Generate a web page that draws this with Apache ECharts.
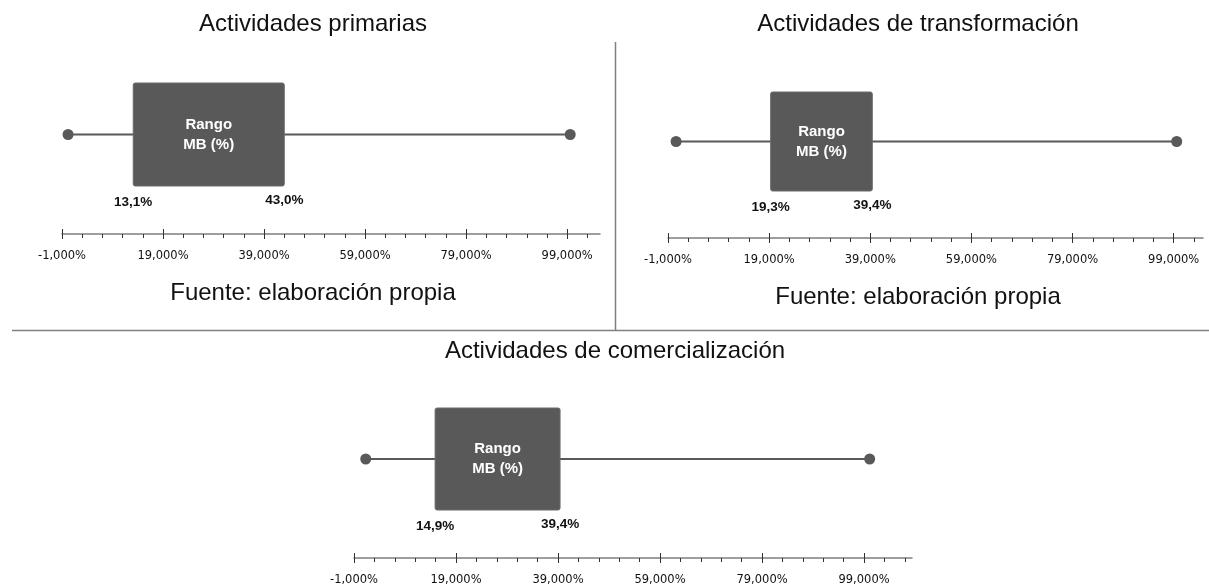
<!DOCTYPE html>
<html><head><meta charset="utf-8">
<script src="https://cdn.jsdelivr.net/npm/echarts@6/dist/echarts.min.js"></script>
<style>html,body{margin:0;padding:0;background:#fff}#c{width:1209px;height:586px}</style>
</head><body><div id="c"></div>
<script>
// ---- data ----
const panelTitles = ['Actividades primarias', 'Actividades de transformación', 'Actividades de comercialización'];
const categoryName = ['Rango MB (%)'];
const boxText = 'Rango\nMB (%)';
const rangeMin = [0.2, 0.6, 1.3];
const rangeLow = [13.1, 19.3, 14.9];
const rangeHigh = [43.0, 39.4, 39.4];
const rangeMax = [99.6, 99.6, 100.1];
const majorTicks = [-1, 19, 39, 59, 79, 99];
const axisMin = -1;
const axisMax = [105.5, 104.8, 108.4];
const sourceText = 'Fuente: elaboración propia';

// ---- layout (style only) ----
const layouts = [
  {left: 62, right: 609, top: 83, height: 103, offset: 48},
  {left: 668, right: 6, top: 92, height: 99, offset: 47},
  {left: 354, right: 297, top: 408, height: 102, offset: 48}
];
const BOX = '#595959';
const SANS = '"Liberation Sans", Arial, sans-serif';

function pct1(v) { return v.toFixed(1).replace('.', ',') + '%'; }
function pct3(v) { return v.toFixed(3).replace('.', ',') + '%'; }
function minorTicksFor(max) { const t = []; for (let v = axisMin; v <= max + 1e-9; v += 4) t.push(v); return t; }

const grids = [], xAxes = [], yAxes = [], series = [];
layouts.forEach((L, i) => {
  grids.push({left: L.left, right: L.right, top: L.top, height: L.height});
  yAxes.push({gridIndex: i, type: 'category', data: categoryName, show: false});
  const base = {gridIndex: i, type: 'value', min: axisMin, max: axisMax[i], position: 'bottom', offset: L.offset,
    splitLine: {show: false}};
  xAxes.push(Object.assign({}, base, {
    axisLine: {show: true, lineStyle: {color: '#7f7f7f', width: 1.5}},
    axisTick: {show: true, customValues: majorTicks, length: 5, lineStyle: {color: '#333', width: 1}},
    axisLabel: {show: true, customValues: majorTicks, formatter: pct3, fontFamily: '"DejaVu Sans", Verdana, sans-serif',
      fontSize: 11.5, color: '#111', margin: 16}
  }));
  xAxes.push(Object.assign({}, base, {
    axisLine: {show: false},
    axisTick: {show: true, inside: true, customValues: majorTicks, length: 5, lineStyle: {color: '#333', width: 1}},
    axisLabel: {show: false}
  }));
  xAxes.push(Object.assign({}, base, {
    axisLine: {show: false},
    axisTick: {show: true, customValues: minorTicksFor(axisMax[i]), length: 4, lineStyle: {color: '#333', width: 1}},
    axisLabel: {show: false}
  }));
  series.push({
    type: 'custom', xAxisIndex: i * 3, yAxisIndex: i, clip: false,
    encode: {x: [0, 1, 2, 3], y: 4},
    data: [[rangeMin[i], rangeLow[i], rangeHigh[i], rangeMax[i], 0]],
    renderItem: function (params, api) {
      const pMin = api.coord([api.value(0), 0]);
      const pLow = api.coord([api.value(1), 0]);
      const pHigh = api.coord([api.value(2), 0]);
      const pMax = api.coord([api.value(3), 0]);
      const yc = pMin[1];
      const h = api.size([0, 1])[1];
      const bottom = yc + h / 2;
      return {type: 'group', children: [
        {type: 'line', shape: {x1: pMin[0], y1: yc, x2: pMax[0], y2: yc}, style: {stroke: BOX, lineWidth: 2}},
        {type: 'circle', shape: {cx: pMin[0], cy: yc, r: 5.5}, style: {fill: BOX}},
        {type: 'circle', shape: {cx: pMax[0], cy: yc, r: 5.5}, style: {fill: BOX}},
        {type: 'rect', shape: {x: pLow[0], y: yc - h / 2, width: pHigh[0] - pLow[0], height: h, r: 2},
          style: {fill: BOX, stroke: '#6a6a6a', lineWidth: 1}},
        {type: 'text', x: (pLow[0] + pHigh[0]) / 2, y: yc, style: {text: boxText, fill: '#fff', font: 'bold 15px ' + SANS,
          align: 'center', verticalAlign: 'middle', lineHeight: 20}},
        {type: 'text', x: pLow[0], y: bottom + 16, style: {text: pct1(api.value(1)), fill: '#111', font: 'bold 13.5px ' + SANS,
          align: 'center', verticalAlign: 'middle'}},
        {type: 'text', x: pHigh[0], y: bottom + 14, style: {text: pct1(api.value(2)), fill: '#111', font: 'bold 13.5px ' + SANS,
          align: 'center', verticalAlign: 'middle'}}
      ]};
    }
  });
});

const titleFont = '24px ' + SANS;
const graphic = [
  {type: 'text', x: 313, y: 24, style: {text: panelTitles[0], font: titleFont, fill: '#111', align: 'center', verticalAlign: 'middle'}},
  {type: 'text', x: 918, y: 24, style: {text: panelTitles[1], font: titleFont, fill: '#111', align: 'center', verticalAlign: 'middle'}},
  {type: 'text', x: 615, y: 351, style: {text: panelTitles[2], font: titleFont, fill: '#111', align: 'center', verticalAlign: 'middle'}},
  {type: 'text', x: 313, y: 293, style: {text: sourceText, font: titleFont, fill: '#111', align: 'center', verticalAlign: 'middle'}},
  {type: 'text', x: 918, y: 297, style: {text: sourceText, font: titleFont, fill: '#111', align: 'center', verticalAlign: 'middle'}},
  {type: 'line', shape: {x1: 615.5, y1: 42, x2: 615.5, y2: 330}, style: {stroke: '#808080', lineWidth: 1.5}},
  {type: 'line', shape: {x1: 12, y1: 330.5, x2: 1209, y2: 330.5}, style: {stroke: '#808080', lineWidth: 1.5}}
];

const chart = echarts.init(document.getElementById('c'), null, {renderer: 'canvas'});
chart.setOption({animation: false, backgroundColor: '#fff', grid: grids, xAxis: xAxes, yAxis: yAxes, series: series, graphic: graphic});
</script>
</body></html>
